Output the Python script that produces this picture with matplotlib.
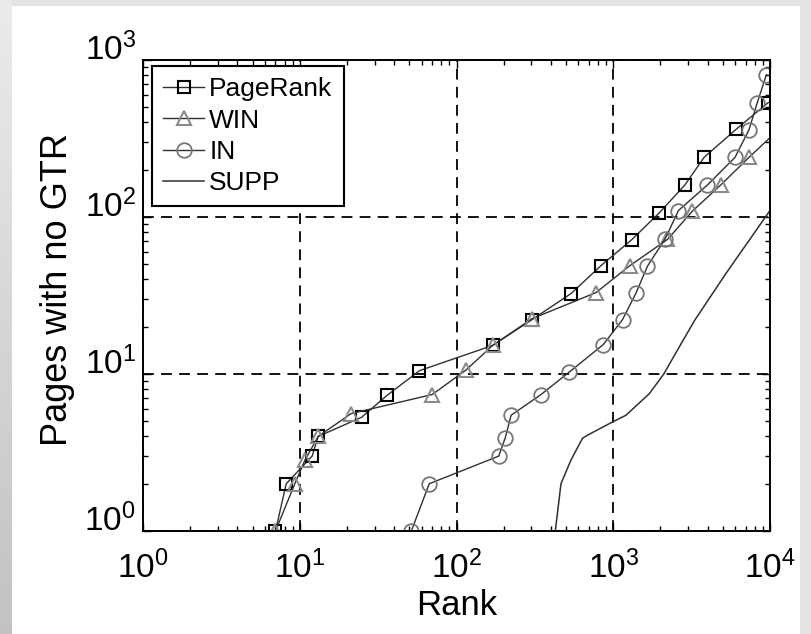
import matplotlib
matplotlib.use("Agg")
import matplotlib.pyplot as plt
import numpy as np
from matplotlib.patches import Rectangle

plt.rcParams['font.family'] = ['Liberation Sans', 'DejaVu Sans']
plt.rcParams['mathtext.fontset'] = 'custom'
plt.rcParams['mathtext.rm'] = 'Liberation Sans'
plt.rcParams['mathtext.it'] = 'Liberation Sans'
plt.rcParams['mathtext.default'] = 'regular'

# data (rank, pages with no GTR)
pr_rank = [7, 8.2, 12, 13.1, 24.8, 36, 58, 170, 303, 537, 835, 1308, 1963, 2864, 3800, 6100, 9750]
pr_vals = [1, 2, 3, 4, 5.3, 7.3, 10.5, 15.2, 22.2, 32.5, 49, 71.5, 106, 160, 240, 363, 536]

win_rank = [7, 9.3, 10.8, 13.1, 21.3, 70, 115, 170, 303, 776, 1277, 2218, 3200, 4850, 7350, 10000]
win_vals = [1, 2, 2.83, 4, 5.6, 7.4, 10.6, 15.2, 22.5, 33, 49, 72, 109, 160, 240, 320]

in_rank = [51.5, 67, 186, 205, 223, 346, 525, 864, 1146, 1395, 1653, 2144, 2606, 3990, 5985, 7350, 8300, 9480]
in_vals = [1, 2, 3, 3.94, 5.46, 7.4, 10.3, 15.4, 22.2, 32.7, 48.6, 72.6, 110, 160, 240, 360, 536, 804]

supp_rank = [427, 464, 537, 637, 686, 990, 1205, 1700, 2100, 2630, 3300, 5220, 10000]
supp_vals = [1, 2, 2.83, 3.9, 4.08, 4.95, 5.46, 7.5, 10, 14.8, 21.9, 43.5, 110]

W, H = 811, 634
fig = plt.figure(figsize=(W / 100, H / 100), dpi=100)
fig.patch.set_facecolor('#e4e4e4')

# grey frame with a soft gradient on the left, white page
bg = fig.add_axes([0, 0, 12 / W, 1], zorder=-20)
grad = np.linspace(0.92, 0.76, 256).reshape(-1, 1)
bg.imshow(grad, cmap='gray', vmin=0, vmax=1, aspect='auto')
bg.axis('off')
page = Rectangle((12 / W, 0), (800 - 12) / W, (H - 6) / H,
                 transform=fig.transFigure, facecolor='white',
                 edgecolor='none', zorder=-10)
fig.patches.append(page)

ax = fig.add_axes([143 / W, (H - 531) / H, 627 / W, 471 / H], zorder=1)
ax.set_xscale('log')
ax.set_yscale('log')

line_c = '#303030'
ax.plot(pr_rank, pr_vals, '-s', color=line_c, lw=1.0, ms=8.5, mfc='none',
        mec='black', mew=1.5, label='PageRank')
ax.plot(win_rank, win_vals, '-^', color=line_c, lw=1.0, ms=10.5, mfc='none',
        mec='#8a8a8a', mew=1.5, label='WIN',
        markevery=list(range(len(win_rank) - 1)))
ax.plot(in_rank, in_vals, '-o', color=line_c, lw=1.0, ms=10.5, mfc='none',
        mec='#777777', mew=1.3, label='IN')
ax.plot(supp_rank, supp_vals, '-', color=line_c, lw=1.1, label='SUPP')

ax.set_xlim(1, 1e4)
ax.set_ylim(1, 1e3)

ax.grid(True, which='major', color='black', linestyle=(0, (6, 4)), lw=1.3)
ax.grid(False, which='minor')
for s in ax.spines.values():
    s.set_linewidth(1.4)

ax.tick_params(which='both', direction='in', top=True, right=True, width=1.0)
ax.tick_params(which='major', length=6, labelsize=24)
ax.tick_params(which='minor', length=3.5)
ax.tick_params(axis='x', which='major', pad=14)
ax.tick_params(axis='y', which='major', pad=5)
for lab in ax.get_yticklabels():
    lab.set_verticalalignment('baseline')

fig.text(457 / W, 1 - 615 / H, 'Rank', fontsize=25, ha='center', va='baseline')
fig.text(58 / W, 1 - 290 / H, 'Pages with no GTR', fontsize=26, rotation=90,
         ha='center', va='center')

leg = ax.legend(loc='upper left', bbox_to_anchor=(0.0144, 0.987), borderaxespad=0,
                fontsize=19, frameon=True, fancybox=False, handlelength=1.55,
                handletextpad=0.2, labelspacing=0.28, borderpad=0.42)
leg.get_frame().set_edgecolor('black')
leg.get_frame().set_linewidth(1.5)
leg.get_frame().set_alpha(1)

plt.savefig('out.png', dpi=100, facecolor=fig.get_facecolor())
